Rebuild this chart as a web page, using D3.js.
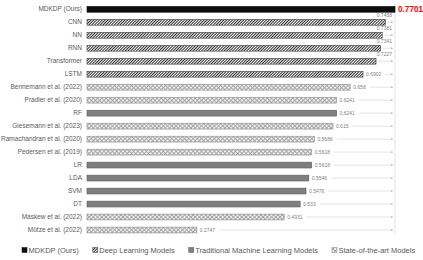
<!DOCTYPE html>
<html>
<head>
<meta charset="utf-8">
<script src="https://cdn.jsdelivr.net/npm/d3@7"></script>
<style>
  body { margin: 0; background: #fff; }
  text { font-family: "Liberation Sans", Arial, sans-serif; }
</style>
</head>
<body>
<div id="chart"></div>
<script>
let w = 423;
let h = 260;

// data
const models = ["MDKDP (Ours)", "CNN", "NN", "RNN", "Transformer", "LSTM",
    "Bennemann et al. (2022)", "Pradier et al. (2020)", "RF", "Giesemann et al. (2023)",
    "Ramachandran et al. (2020)", "Pedersen et al. (2019)", "LR", "LDA", "SVM", "DT",
    "Maskew et al. (2022)", "Mütze et al. (2022)"];
const scores = [0.7701, 0.7458, 0.7381, 0.7341, 0.7227, 0.6902, 0.658, 0.6241, 0.6241,
    0.615, 0.5686, 0.5618, 0.5618, 0.5546, 0.5476, 0.533, 0.4931, 0.2747];
const groups = ["ours", "dl", "dl", "dl", "dl", "dl", "sota", "sota", "trad", "sota",
    "sota", "sota", "trad", "trad", "trad", "trad", "sota", "sota"];
const groupKeys = ["ours", "dl", "trad", "sota"];
const groupNames = ["MDKDP (Ours)", "Deep Learning Models", "Traditional Machine Learning Models", "State-of-the-art Models"];

const dataset = models.map((m, i) => ({ model: m, score: scores[i], group: groups[i] }));

let svg = d3.select("#chart")
    .append("svg")
    .attr("width", w)
    .attr("height", h);

// patterns
let defs = svg.append("defs");

let pDl = defs.append("pattern")
    .attr("id", "pat-dl")
    .attr("patternUnits", "userSpaceOnUse")
    .attr("width", 2).attr("height", 2)
    .attr("patternTransform", "rotate(45)");
pDl.append("rect").attr("width", 2).attr("height", 2).attr("fill", "#fff");
pDl.append("rect").attr("width", 1).attr("height", 2).attr("fill", "#303030");

let pSota = defs.append("pattern")
    .attr("id", "pat-sota")
    .attr("patternUnits", "userSpaceOnUse")
    .attr("width", 3).attr("height", 3)
    .attr("patternTransform", "rotate(45)");
pSota.append("rect").attr("width", 3).attr("height", 3).attr("fill", "#f2f2f2");
pSota.append("rect").attr("width", 0.9).attr("height", 3).attr("fill", "#a0a0a0");
pSota.append("rect").attr("width", 3).attr("height", 0.9).attr("fill", "#a0a0a0");

const fills = { ours: "#0d0d0d", dl: "url(#pat-dl)", trad: "#7f7f7f", sota: "url(#pat-sota)" };
const strokes = { ours: "#0d0d0d", dl: "#404040", trad: "#5a5a5a", sota: "#8c8c8c" };

let arrow = defs.append("marker")
    .attr("id", "arrowhead")
    .attr("viewBox", "0 0 6 6")
    .attr("refX", 6).attr("refY", 3)
    .attr("markerWidth", 3).attr("markerHeight", 3)
    .attr("orient", "auto");
arrow.append("path").attr("d", "M0,0L6,3L0,6Z").attr("fill", "#a6a6a6");

// scales
let xScale = d3.scaleLinear()
    .domain([0, d3.max(scores)])
    .range([87, 395]);

let yScale = d3.scaleBand()
    .domain(models)
    .range([2.8, 236.5])
    .paddingInner(0.55)
    .paddingOuter(0.275);

// reference line at the best score
svg.append("line")
    .attr("x1", xScale(d3.max(scores)))
    .attr("x2", xScale(d3.max(scores)))
    .attr("y1", yScale.range()[0])
    .attr("y2", yScale.range()[1] - 2)
    .style("stroke", "#e4e4e4")
    .style("stroke-width", 1);

// category labels
let yAxis = d3.axisLeft(yScale).tickSize(0).tickPadding(5);
let gy = svg.append("g")
    .attr("transform", "translate(" + xScale(0) + ",0)")
    .call(yAxis);
gy.select(".domain").remove();
gy.selectAll("text")
    .style("font-size", "6.5px")
    .style("fill", "#595959");

// bars
svg.selectAll("rect.bar")
    .data(dataset)
    .enter()
    .append("rect")
    .attr("class", "bar")
    .attr("x", xScale(0))
    .attr("y", d => yScale(d.model))
    .attr("width", d => xScale(d.score) - xScale(0))
    .attr("height", yScale.bandwidth())
    .attr("fill", d => fills[d.group])
    .attr("stroke", d => strokes[d.group])
    .attr("stroke-width", 0.6);

// value labels
let arrowEnd = xScale(d3.max(scores)) - 2;
let rows = svg.selectAll("g.val")
    .data(dataset)
    .enter()
    .append("g")
    .attr("class", "val");

rows.each(function(d) {
    let g = d3.select(this);
    let yc = yScale(d.model) + yScale.bandwidth() / 2;
    let xe = xScale(d.score);
    if (d.group === "ours") {
        g.append("text")
            .attr("x", xe + 3)
            .attr("y", yc)
            .attr("dy", "0.35em")
            .text(d.score)
            .style("font-size", "8.2px")
            .style("font-weight", "bold")
            .style("fill", "#ff0000");
        return;
    }
    let t = g.append("text")
        .text(d.score)
        .style("font-size", "5px")
        .style("fill", "#7f7f7f");
    let tw = t.node().getComputedTextLength();
    let lineStart;
    if (xe + 3 + tw + 8 > arrowEnd) {
        // not enough room: put the label above the bar end
        t.attr("x", arrowEnd - 1).attr("y", yc - 5).attr("text-anchor", "end");
        lineStart = xe + 2;
    } else {
        t.attr("x", xe + 3).attr("y", yc).attr("dy", "0.35em");
        lineStart = xe + 3 + tw + 4;
    }
    g.append("line")
        .attr("x1", lineStart)
        .attr("x2", arrowEnd)
        .attr("y1", yc)
        .attr("y2", yc)
        .style("stroke", "#d0d0d0")
        .style("stroke-width", 0.6)
        .attr("marker-end", "url(#arrowhead)");
});

// legend
let legend = svg.append("g").attr("class", "legend");
let lx = 22;
groupKeys.forEach((k, i) => {
    let item = legend.append("g");
    item.append("rect")
        .attr("x", lx)
        .attr("y", 247.5)
        .attr("width", 5)
        .attr("height", 5)
        .attr("fill", fills[k])
        .attr("stroke", strokes[k])
        .attr("stroke-width", 0.5);
    let t = item.append("text")
        .attr("x", lx + 6.5)
        .attr("y", 250)
        .attr("dy", "0.35em")
        .text(groupNames[i])
        .style("font-size", "7.5px")
        .style("fill", "#595959");
    lx += 6.5 + t.node().getComputedTextLength() + 14;
});
</script>
</body>
</html>
